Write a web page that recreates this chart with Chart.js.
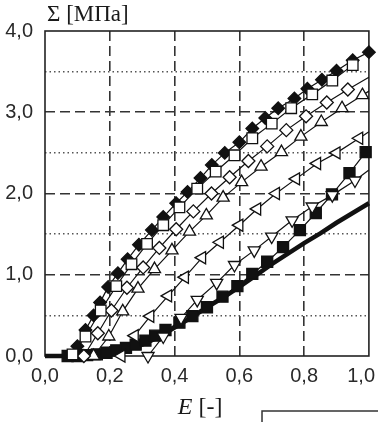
<!DOCTYPE html>
<html>
<head>
<meta charset="utf-8">
<script src="https://cdn.jsdelivr.net/npm/chart.js@4/dist/chart.umd.min.js"></script>
<style>
  html, body { margin: 0; padding: 0; background: #fff; }
  canvas { display: block; }
</style>
</head>
<body>
<canvas id="c" width="378" height="422"></canvas>
<script>
// ---- data ----
const xTickValues = [0, 0.2, 0.4, 0.6, 0.8, 1.0];
const xTickLabels = ['0,0', '0,2', '0,4', '0,6', '0,8', '1,0'];
const yTickValues = [0, 1, 2, 3, 4];
const yTickLabels = ['0,0', '1,0', '2,0', '3,0', '4,0'];
const yTitle = 'Σ [МПа]';
const xTitleVar = 'E';
const xTitleUnit = '[-]';

// filled diamonds
const fdX = [0.10,0.125,0.15,0.17,0.195,0.225,0.255,0.29,0.33,0.365,0.405,0.44,0.48,0.515,0.555,0.60,0.64,0.68,0.72,0.77,0.81,0.855,0.90,0.95,1.0];
const fdY = [0.12,0.32,0.50,0.66,0.85,1.02,1.19,1.37,1.55,1.71,1.88,2.02,2.19,2.35,2.50,2.63,2.80,2.93,3.05,3.17,3.29,3.40,3.51,3.64,3.74];
// open squares
const osX = [0.085,0.125,0.172,0.22,0.267,0.315,0.365,0.415,0.47,0.527,0.585,0.64,0.70,0.76,0.825,0.887,0.95];
const osY = [0.02,0.24,0.56,0.86,1.13,1.38,1.61,1.83,2.06,2.27,2.47,2.68,2.86,3.05,3.22,3.39,3.58];
// open diamonds (last value = line end at the frame)
const odX = [0.12,0.163,0.205,0.253,0.303,0.353,0.405,0.458,0.514,0.57,0.628,0.686,0.745,0.806,0.87,0.935,1.0];
const odY = [0.0,0.28,0.56,0.84,1.09,1.33,1.56,1.78,2.0,2.2,2.40,2.58,2.78,2.95,3.12,3.28,3.43];
// open triangles up
const tuX = [0.15,0.197,0.24,0.287,0.338,0.392,0.446,0.498,0.55,0.607,0.667,0.73,0.79,0.853,0.917,0.98,1.0];
const tuY = [0.0,0.24,0.55,0.83,1.07,1.30,1.53,1.73,1.95,2.14,2.33,2.51,2.70,2.88,3.05,3.21,3.26];
// open triangles left
const tlX = [0.236,0.277,0.325,0.38,0.432,0.485,0.54,0.60,0.655,0.713,0.775,0.84,0.90,0.97,1.0];
const tlY = [0.0,0.25,0.49,0.74,0.97,1.21,1.40,1.61,1.81,2.0,2.18,2.37,2.50,2.68,2.76];
// open triangles down
const tdX = [0.318,0.365,0.42,0.47,0.53,0.585,0.646,0.70,0.763,0.825,0.887,0.957,1.0];
const tdY = [0.0,0.24,0.47,0.69,0.90,1.12,1.30,1.47,1.67,1.84,1.98,2.16,2.29];
// filled squares
const fsX = [0.07,0.10,0.13,0.16,0.19,0.22,0.25,0.28,0.31,0.34,0.372,0.415,0.455,0.50,0.548,0.594,0.64,0.686,0.735,0.787,0.836,0.886,0.94,0.99];
const fsY = [0.0,0.0,0.01,0.02,0.04,0.07,0.10,0.14,0.19,0.25,0.32,0.41,0.49,0.60,0.73,0.86,1.01,1.16,1.34,1.55,1.76,1.99,2.25,2.51];
// thick curve (no markers)
const thX = [0,0.05,0.1,0.15,0.2,0.25,0.3,0.35,0.4,0.45,0.5,0.55,0.6,0.65,0.7,0.75,0.8,0.85,0.9,0.95,1.0];
const thY = [0,0.0,0.01,0.02,0.04,0.08,0.14,0.23,0.35,0.47,0.60,0.72,0.85,0.99,1.13,1.26,1.39,1.51,1.64,1.76,1.88];

const pts = (xs, ys) => xs.map((x, i) => ({ x: x, y: ys[i] }));
const noEnd = (xs, r) => (c) => (c.dataIndex === xs.length - 1 ? 0 : r);

function series(xs, ys, style, r, fill, rot, order, endless) {
  return {
    data: pts(xs, ys),
    showLine: true,
    borderColor: '#111',
    borderWidth: 1.2,
    pointStyle: style,
    pointRotation: rot,
    pointRadius: endless ? noEnd(xs, r) : r,
    pointHoverRadius: endless ? noEnd(xs, r) : r,
    pointBackgroundColor: fill,
    pointBorderColor: '#111',
    pointBorderWidth: 1.3,
    clip: false,
    order: order
  };
}

const datasets = [
  series(osX, osY, 'rect', 7.5, '#fff', 0, 0, false),
  series(fdX, fdY, 'rectRot', 6.3, '#111', 0, 1, false),
  series(odX, odY, 'rectRot', 6.5, '#fff', 0, 2, true),
  series(tuX, tuY, 'triangle', 7, '#fff', 0, 3, true),
  series(tlX, tlY, 'triangle', 7, '#fff', -90, 4, true),
  series(tdX, tdY, 'triangle', 7, '#fff', 180, 5, true),
  series(fsX, fsY, 'rect', 7.8, '#111', 0, 6, false),
  {
    data: pts(thX, thY), showLine: true, borderColor: '#111', borderWidth: 4.5,
    pointRadius: 0, pointHoverRadius: 0, clip: false, order: 7
  }
];

const isInt = (v) => Math.abs(v - Math.round(v)) < 1e-6;

const decor = {
  id: 'decor',
  beforeDatasetsDraw(chart) {
    const { ctx, chartArea: a } = chart;
    ctx.save();
    ctx.strokeStyle = '#222';
    ctx.lineWidth = 1.6;
    ctx.setLineDash([]);
    ctx.strokeRect(a.left, a.top, a.right - a.left, a.bottom - a.top);
    ctx.restore();
  },
  afterDraw(chart) {
    const { ctx, chartArea: a, scales } = chart;
    const xs = scales.x;
    ctx.save();
    ctx.fillStyle = '#2a2a2a';
    ctx.textBaseline = 'alphabetic';
    ctx.font = '20px "Liberation Sans", Arial, sans-serif';
    xTickValues.forEach((v, i) => {
      const t = xTickLabels[i];
      const w = ctx.measureText(t).width;
      let c = xs.getPixelForValue(v);
      c = Math.min(c, chart.width - 3 - w / 2);
      ctx.fillText(t, c - w / 2, a.bottom + 26);
    });
    // axis titles
    ctx.fillStyle = '#1a1a1a';
    ctx.font = '23px "Liberation Serif", "Times New Roman", serif';
    ctx.fillText(yTitle, a.left + 2, a.top - 10);
    ctx.font = 'italic 24px "Liberation Serif", "Times New Roman", serif';
    const ex = xs.getPixelForValue(0.41);
    ctx.fillText(xTitleVar, ex, a.bottom + 58);
    const ew = ctx.measureText(xTitleVar).width;
    ctx.font = '24px "Liberation Serif", "Times New Roman", serif';
    ctx.fillText(xTitleUnit, ex + ew + 6, a.bottom + 58);
    // corner of a box below the plot
    ctx.strokeStyle = '#333';
    ctx.lineWidth = 1.5;
    ctx.beginPath();
    const bx = xs.getPixelForValue(0.67);
    ctx.moveTo(bx, chart.height);
    ctx.lineTo(bx, a.bottom + 55);
    ctx.lineTo(chart.width, a.bottom + 55);
    ctx.stroke();
    ctx.restore();
  }
};

new Chart(document.getElementById('c'), {
  type: 'scatter',
  data: { datasets: datasets },
  options: {
    responsive: false,
    devicePixelRatio: 1,
    animation: false,
    events: [],
    layout: { padding: { left: 0, top: 31, right: 7, bottom: 66 } },
    plugins: { legend: { display: false }, tooltip: { enabled: false }, title: { display: false } },
    scales: {
      x: {
        type: 'linear', min: 0, max: 1,
        ticks: { stepSize: 0.2, display: false },
        grid: {
          drawTicks: false,
          color: (c) => (c.tick && (c.tick.value <= 0.0001 || c.tick.value >= 0.9999) ? 'rgba(0,0,0,0)' : '#333'),
          lineWidth: 1.6
        },
        border: { display: false, dash: [10, 5] },
        afterFit: (s) => { s.height = 0; }
      },
      y: {
        type: 'linear', min: 0, max: 4,
        ticks: {
          stepSize: 0.5, autoSkip: false, padding: 12,
          color: '#2a2a2a',
          font: { family: '"Liberation Sans", Arial, sans-serif', size: 20 },
          callback: (v) => {
            const k = yTickValues.indexOf(v);
            return k >= 0 ? yTickLabels[k] : '';
          }
        },
        grid: {
          drawTicks: false,
          color: (c) => {
            if (!c.tick) return '#333';
            const v = c.tick.value;
            if (v <= 0.0001 || v >= 3.9999) return 'rgba(0,0,0,0)';
            return isInt(v) ? '#333' : '#555';
          },
          lineWidth: (c) => (c.tick && isInt(c.tick.value) ? 1.6 : 1.5)
        },
        border: {
          display: false,
          dash: (c) => (c.tick && !isInt(c.tick.value) ? [1.5, 3] : [10, 5])
        },
        afterFit: (s) => { s.width = 45; }
      }
    }
  },
  plugins: [decor]
});
</script>
</body>
</html>
